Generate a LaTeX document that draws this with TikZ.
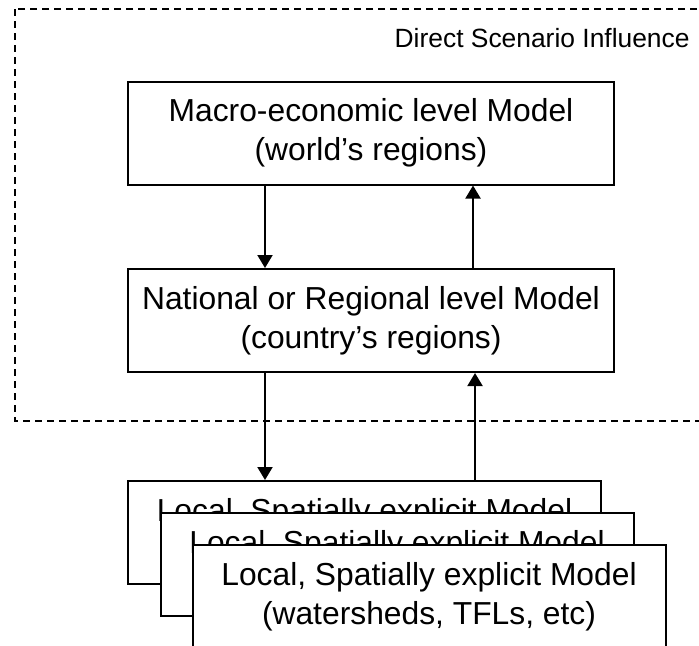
\documentclass[tikz,border=0pt]{standalone}
\usepackage{fontspec}
\setmainfont{Liberation Sans}
\usepackage{tikz}
\usetikzlibrary{arrows.meta}
\tikzset{
  basenode/.style = {align=center, inner sep=0pt, text centered,
    font=\fontsize{15.9pt}{19.5pt}\selectfont},
  model_box/.style = {basenode, rectangle, draw=black, fill=white, line width=1pt,
    minimum width=243pt, minimum height=51.5pt},% niveau global / national
  local_box/.style = {basenode, rectangle, draw=black, fill=white, line width=1pt,
    minimum width=236.5pt, minimum height=51.5pt},% niveau local
  flow/.style = {line width=1pt, -{Triangle[length=6.5pt,width=7.5pt]}},
  scenario/.style = {line width=1pt, dash pattern=on 3.5pt off 2.5pt},
  scen_label/.style = {inner sep=0pt, font=\fontsize{13.2pt}{15pt}\selectfont}
}

\begin{document}
\begin{tikzpicture}[x=0.5pt, y=-0.5pt]
		\useasboundingbox (0,0) rectangle (699,645);
		\clip (0,0) rectangle (699,645);
		\draw [scenario] (15,9) rectangle (712,421);
		\node [scen_label, anchor=base east] (scenlabel) at (690,47) {Direct Scenario Influence};
		\node [model_box] (macro) at (371,133) {Macro-economic level Model\\(world’s regions)};
		\node [model_box] (national) at (371,320.5) {National or Regional level Model\\(country’s regions)};
		\node [local_box] (localA) at (364.5,532.5) {Local, Spatially explicit Model\\(watersheds, TFLs, etc)};
		\node [local_box] (localB) at (397,564.5) {Local, Spatially explicit Model\\(watersheds, TFLs, etc)};
		\node [local_box] (localC) at (429,596.5) {Local, Spatially explicit Model\\(watersheds, TFLs, etc)};
		\draw [flow] (macro.south -| 265,0) -- (national.north -| 265,0);
		\draw [flow] (national.north -| 473,0) -- (macro.south -| 473,0);
		\draw [flow] (national.south -| 265,0) -- (localA.north -| 265,0);
		\draw [flow] (localA.north -| 475,0) -- (national.south -| 475,0);
	\end{tikzpicture}
\end{document}
